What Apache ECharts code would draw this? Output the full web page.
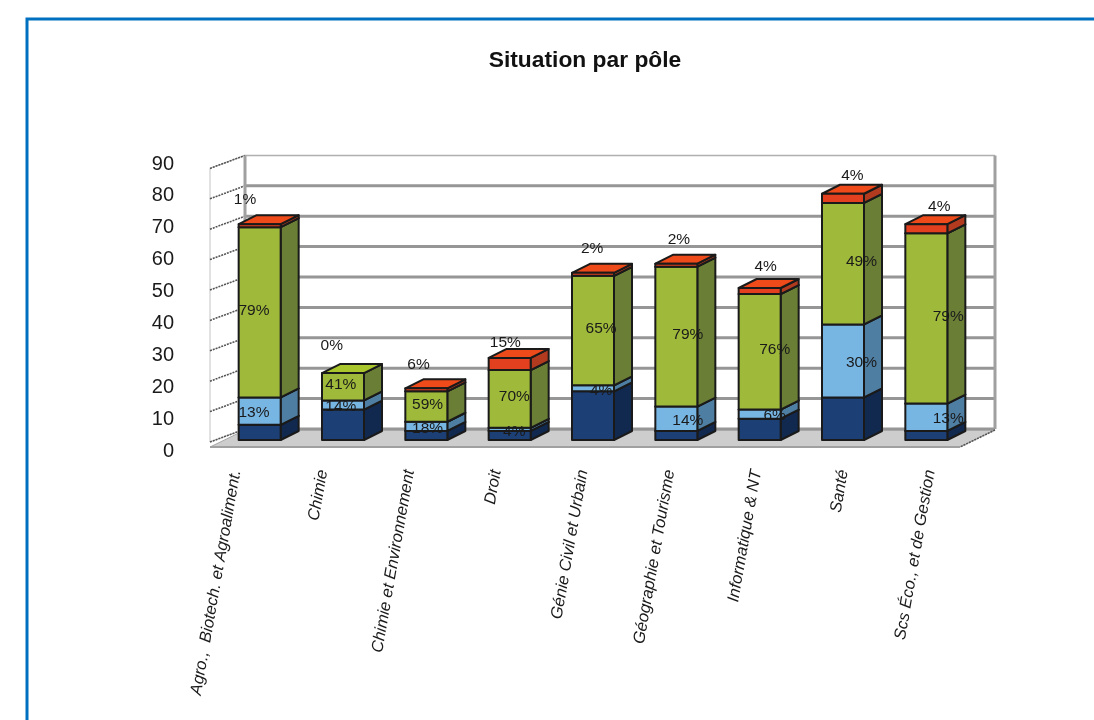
<!DOCTYPE html>
<html><head><meta charset="utf-8">
<style>html,body{margin:0;padding:0;background:#fff;overflow:hidden}#c{width:1094px;height:720px}</style>
<script src="https://cdn.jsdelivr.net/npm/echarts@6/dist/echarts.min.js"></script>
</head><body><div id="c"></div>
<script>
const categories = ['Agro.,  Biotech. et Agroaliment.','Chimie','Chimie et Environnement','Droit','Génie Civil et Urbain','Géographie et Tourisme','Informatique & NT','Santé','Scs Éco., et de Gestion'];
const yTicks = [0,10,20,30,40,50,60,70,80,90];
const darkValues  = [5,10,3,3,16,3,7,14,3];
const lightValues = [9,3,3,1,2,8,3,24,9];
const greenValues = [56,9,10,19,36,46,38,40,56];
const redValues   = [1,0,1,4,1,1,2,3,3];
const lightLabels = ['13%','14%','18%','4%','4%','14%','6%','30%','13%'];
const greenLabels = ['79%','41%','59%','70%','65%','79%','76%','49%','79%'];
const redLabels   = ['1%','0%','6%','15%','2%','2%','4%','4%','4%'];

const stacks = [darkValues, lightValues, greenValues, redValues];
const faces = [
  {front:'#1c3f76', side:'#12294f', top:'#1c3f76'},
  {front:'#77b5e3', side:'#4f7ea3', top:'#77b5e3'},
  {front:'#9fb93a', side:'#6a7f35', top:'#a9c62c'},
  {front:'#e2401f', side:'#b13a1f', top:'#ee4a1a'}
];
const BAR_W=42, DX=18, DY=9, EDGE='#1a1a1a';
const WALL_DX=35, WALL_BACK=11, WALL_FRONT=2, FLOOR_EXTRA=5, PLOT_W=750, BAR_SHIFT=8;

function stackRows(){
  const rows=[];
  categories.forEach((c,i)=>{
    let base=0;
    stacks.forEach((s,k)=>{ rows.push([i,base,base+s[i],k]); base+=s[i]; });
  });
  return rows;
}
function poly(points,fill,lw){
  return {type:'polygon',shape:{points},style:{fill,stroke:EDGE,lineWidth:lw===undefined?2:lw,lineJoin:'round'}};
}
function renderSeg(params,api){
  const i=api.value(0), lo=api.value(1), hi=api.value(2), k=api.value(3);
  if(hi<=lo) return {type:'group',children:[]};
  const a=api.coord([i,lo]), b=api.coord([i,hi]);
  const L=a[0]-BAR_W/2, R=a[0]+BAR_W/2, f=faces[k];
  return {type:'group',children:[
    poly([[R,a[1]],[R+DX,a[1]-DY],[R+DX,b[1]-DY],[R,b[1]]],f.side),
    poly([[L,b[1]],[R,b[1]],[R+DX,b[1]-DY],[L+DX,b[1]-DY]],f.top),
    poly([[L,a[1]],[R,a[1]],[R,b[1]],[L,b[1]]],f.front)
  ]};
}
function renderWalls(params,api){
  const band=api.size([1,0])[0];
  const o=api.coord([0,0]), t=api.coord([0,90]);
  const xf=o[0]-band/2-BAR_SHIFT, xb=xf+WALL_DX, xr=xb+PLOT_W;
  const yb0=o[1]-WALL_BACK, yb9=t[1]-WALL_BACK, yf0=o[1]+WALL_FRONT, yf9=t[1]+WALL_FRONT;
  const kids=[];
  kids.push({type:'polygon',shape:{points:[[xb,yb0+1],[xr,yb0+1],[xr-WALL_DX,yf0+FLOOR_EXTRA],[xf,yf0+FLOOR_EXTRA]]},style:{fill:'#cdcdcd',stroke:'#a8a8a8',lineWidth:1}});
  kids.push({type:'polygon',shape:{points:[[xf,yf0],[xb,yb0],[xb,yb9],[xf,yf9]]},style:{fill:'#fff',stroke:'#c4c4c4',lineWidth:1}});
  yTicks.forEach(v=>{
    const p=api.coord([0,v]), yb=p[1]-WALL_BACK, yf=p[1]+WALL_FRONT;
    kids.push({type:'line',shape:{x1:xf,y1:yf,x2:xb,y2:yb},style:{stroke:'#555',lineWidth:1.6,lineDash:[2,1]}});
    kids.push({type:'line',shape:{x1:xb,y1:yb,x2:xr,y2:yb},style:{stroke:v===90?'#b0b0b0':'#969696',lineWidth:v===90?1.5:3}});
  });
  kids.push({type:'line',shape:{x1:xb,y1:yb0,x2:xb,y2:yb9},style:{stroke:'#a0a0a0',lineWidth:3}});
  kids.push({type:'line',shape:{x1:xr,y1:yb0,x2:xr,y2:yb9},style:{stroke:'#a0a0a0',lineWidth:3}});
  kids.push({type:'line',shape:{x1:xr,y1:yb0+1,x2:xr-WALL_DX,y2:yf0+FLOOR_EXTRA},style:{stroke:'#555',lineWidth:1.6,lineDash:[2,1]}});
  kids.push({type:'line',shape:{x1:xf,y1:yf0+FLOOR_EXTRA,x2:xr-WALL_DX,y2:yf0+FLOOR_EXTRA},style:{stroke:'#a0a0a0',lineWidth:2}});
  return {type:'group',children:kids};
}
function labelRows(){
  const rows=[];
  categories.forEach((c,i)=>{
    const d=darkValues[i], l=lightValues[i], g=greenValues[i];
    rows.push([i,d+l/2,lightLabels[i],0]);
    rows.push([i,d+l+g/2,greenLabels[i],1]);
    rows.push([i,d+l+g,redLabels[i],2]);
  });
  return rows;
}
const labelShiftX=[0,0,-9], labelShiftY=[2,-2,-27];
function renderLabel(params,api){
  const kind=api.value(3);
  const p=api.coord([api.value(0),api.value(1)]);
  const row=labelData[params.dataIndex];
  return {type:'text',style:{text:row[2],x:p[0]+labelShiftX[kind],y:p[1]+labelShiftY[kind],align:'center',verticalAlign:'middle',fill:'#1a1a1a',font:'15.5px "Liberation Sans", Arial, sans-serif'}};
}
const labelData=labelRows();
const font='"Liberation Sans", Arial, sans-serif';
const chart=echarts.init(document.getElementById('c'),null,{renderer:'canvas'});
const PLOT_TOP=440-273.6, PLOT_H=273.6;
const chartSeries=[
  {type:'custom',name:'walls',xAxisIndex:1,yAxisIndex:1,data:[[0,0]],renderItem:renderWalls,silent:true,z:1,clip:false}
];
stacks.forEach((s,k)=>{
  chartSeries.push({type:'custom',name:'seg'+k,xAxisIndex:1,yAxisIndex:1,silent:true,z:3,clip:false,
    data:stackRows().filter(r=>r[3]===k),encode:{x:0,y:[1,2]},renderItem:renderSeg});
});
chartSeries.push({type:'custom',name:'labels',xAxisIndex:2,yAxisIndex:2,silent:true,z:5,clip:false,
  data:labelData.map(r=>[r[0],r[1],r[2],r[3]]),encode:{x:0,y:1},renderItem:renderLabel});
chart.setOption({
  animation:false,
  backgroundColor:'#fff',
  title:{text:'Situation par pôle',left:580,top:44,textAlign:'center',textStyle:{fontFamily:font,fontWeight:'bold',fontSize:22.8,color:'#111'}},
  graphic:[{type:'rect',shape:{x:27,y:19,width:1200,height:900},style:{fill:'none',stroke:'#0070c0',lineWidth:3},z:0}],
  grid:[
    {left:180,width:20,top:164,height:287},
    {left:218,width:PLOT_W,top:PLOT_TOP,height:PLOT_H},
    {left:210.6,width:781,top:PLOT_TOP,height:PLOT_H},
    {left:192.6,width:781,top:400,height:67}
  ],
  xAxis:[
    {gridIndex:0,type:'category',data:['x'],show:false},
    {gridIndex:1,type:'category',data:categories,show:false},
    {gridIndex:2,type:'category',data:categories,show:false},
    {gridIndex:3,type:'category',data:categories,axisLine:{show:false},axisTick:{show:false},
      axisLabel:{interval:0,rotate:80,margin:3,fontFamily:font,fontStyle:'italic',fontSize:16.5,color:'#1a1a1a'}}
  ],
  yAxis:[
    {gridIndex:0,type:'value',min:0,max:90,interval:10,splitLine:{show:false},axisLine:{show:false},axisTick:{show:false},
      axisLabel:{margin:6,fontFamily:font,fontSize:20,color:'#1a1a1a'}},
    {gridIndex:1,type:'value',min:0,max:90,interval:10,show:false},
    {gridIndex:2,type:'value',min:0,max:90,interval:10,show:false},
    {gridIndex:3,type:'value',min:0,max:1,show:false}
  ],
  series:chartSeries
});
</script></body></html>
